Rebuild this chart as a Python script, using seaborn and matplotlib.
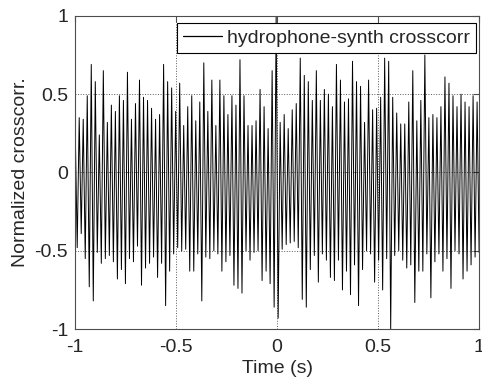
import matplotlib
matplotlib.use("Agg")
import matplotlib.pyplot as plt
import numpy as np
import pandas as pd
import seaborn as sns

# peak values, alternating up/down through the trace
upper_neg = [0.29, 0.35, 0.34, 0.49, 0.69, 0.58, 0.24, 0.65, 0.32, 0.43,
             0.39, 0.49, 0.46, 0.64, 0.34, 0.44, 0.59, 0.48, 0.46, 0.41,
             0.34, 0.37, 0.69, 0.58, 0.54, 0.39, 0.57, 0.30, 0.42, 0.49,
             0.33, 0.45, 0.70, 0.39, 0.59, 0.30, 0.59, 0.49, 0.37, 0.49,
             0.43, 0.72, 0.49, 0.30, 0.30, 0.33, 0.53, 0.42, 0.28, 0.65]
lower_neg = [-0.48, -0.39, -0.55, -0.73, -0.82, -0.51, -0.58, -0.55, -0.53, -0.57,
             -0.68, -0.62, -0.71, -0.55, -0.57, -0.47, -0.72, -0.61, -0.58, -0.54,
             -0.67, -0.58, -0.85, -0.63, -0.52, -0.48, -0.50, -0.49, -0.63, -0.63,
             -0.52, -0.82, -0.54, -0.55, -0.50, -0.52, -0.63, -0.57, -0.53, -0.72,
             -0.74, -0.77, -0.50, -0.56, -0.51, -0.50, -0.69, -0.63, -0.71, -0.86]
zero_lag = [1.00, -0.93]
upper_pos = [0.32, 0.37, 0.28, 0.40, 0.44, 0.73, 0.62, 0.58, 0.46, 0.65,
             0.46, 0.53, 0.50, 0.42, 0.69, 0.59, 0.45, 0.47, 0.71, 0.58,
             0.55, 0.32, 0.59, 0.40, 0.41, 0.48, 0.73, 0.71, 0.48, 0.38,
             0.31, 0.31, 0.45, 0.65, 0.33, 0.46, 0.75, 0.35, 0.37, 0.35,
             0.42, 0.61, 0.57, 0.49, 0.42, 0.50, 0.45, 0.42, 0.49, 0.45]
lower_pos = [-0.49, -0.46, -0.45, -0.44, -0.48, -0.81, -0.86, -0.62, -0.53, -0.70,
             -0.52, -0.56, -0.67, -0.69, -0.56, -0.75, -0.63, -0.78, -0.59, -0.85,
             -0.62, -0.50, -0.52, -0.70, -0.56, -0.75, -0.55, -1.00, -0.53, -0.50,
             -0.56, -0.61, -0.59, -0.83, -0.63, -0.63, -0.52, -0.80, -0.57, -0.52,
             -0.63, -0.55, -0.74, -0.50, -0.52, -0.68, -0.63, -0.59, -0.54, -0.51]

ticks = [-1, -0.5, 0, 0.5, 1]
tick_labels = ["-1", "-0.5", "0", "0.5", "1"]

# interleave maxima and minima into one trace
vals = []
for u, l in zip(upper_neg, lower_neg):
    vals += [u, l]
vals += zero_lag
for u, l in zip(upper_pos, lower_pos):
    vals += [u, l]
df = pd.DataFrame({"t": np.linspace(-1, 1, len(vals)), "xc": vals})

sns.set_style("white")
plt.rcParams["font.family"] = ["Liberation Sans", "DejaVu Sans"]

fig = plt.figure(figsize=(4.82, 3.77), dpi=100)
ax = fig.add_axes([0.156, 0.127, 0.838, 0.831])

sns.lineplot(data=df, x="t", y="xc", color="black", linewidth=0.7,
             sort=False, estimator=None, label="hydrophone-synth crosscorr", ax=ax)

ax.set_xlim(-1, 1)
ax.set_ylim(-1, 1)
ax.set_xticks(ticks)
ax.set_xticklabels(tick_labels)
ax.set_yticks(ticks)
ax.set_yticklabels(tick_labels)
ax.grid(True, linestyle=":", color="0.35", linewidth=0.7)
ax.tick_params(direction="in", length=4, labelsize=14, top=True, right=True,
               color="0.3")
ax.tick_params(axis="x", pad=7)
ax.tick_params(axis="y", pad=5)
for s in ax.spines.values():
    s.set_color("0.3")
    s.set_linewidth(0.8)
ax.set_xlabel("Time (s)", fontsize=14, labelpad=3)
ax.set_ylabel("Normalized crosscorr.", fontsize=14, labelpad=4)

leg = ax.legend(loc="upper right", bbox_to_anchor=(0.9926, 0.978),
                fontsize=14, frameon=True, fancybox=False,
                borderpad=0.32, handlelength=2.0, handletextpad=0.25,
                borderaxespad=0, framealpha=1)
leg.get_frame().set_edgecolor("black")
leg.get_frame().set_linewidth(0.8)
for h in leg.get_lines():
    h.set_linewidth(0.9)

fig.savefig("out.png", dpi=100)
